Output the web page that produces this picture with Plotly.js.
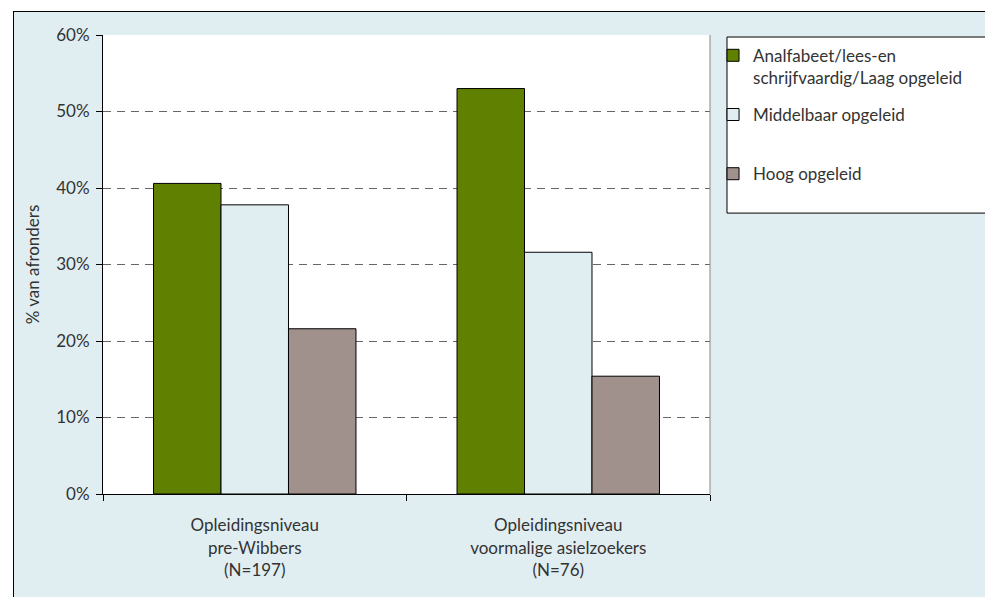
<!DOCTYPE html>
<html>
<head>
<meta charset="utf-8">
<script src="https://cdn.plot.ly/plotly-3.0.1.min.js"></script>
<style>
  html, body { margin: 0; padding: 0; background: #ffffff; }
  #frame { position: absolute; left: 13px; top: 11px; width: 1000px; height: 600px;
           border: 1px solid #000; background: #e0eef2; box-sizing: border-box; }
  #chart { position: absolute; left: 0; top: 0; width: 985px; height: 597px; }
</style>
</head>
<body>
<div id="frame"></div>
<div id="chart"></div>
<script>
const categories = [
  "Opleidingsniveau<br>pre-Wibbers<br>(N=197)",
  "Opleidingsniveau<br>voormalige asielzoekers<br>(N=76)"
];
const seriesNames = [
  "Analfabeet/lees-en<br>schrijfvaardig/Laag opgeleid",
  "Middelbaar opgeleid<br> ",
  "Hoog opgeleid<br> "
];
const laagValues = [40.6, 53.0];
const middelbaarValues = [37.8, 31.6];
const hoogValues = [21.6, 15.4];
const yTickVals = [0, 10, 20, 30, 40, 50, 60];
const yTickText = ["0%", "10%", "20%", "30%", "40%", "50%", "60%"];

const colors = ["#5f8000", "#e0eef2", "#a0918c"];
const allValues = [laagValues, middelbaarValues, hoogValues];

const traces = allValues.map((vals, i) => ({
  type: "bar",
  x: categories,
  y: vals,
  name: seriesNames[i],
  legendgroup: "g" + i,
  marker: { color: colors[i], line: { color: "#000", width: 1 } },
  hoverinfo: "skip"
}));

const fam = "Lato, 'Open Sans', sans-serif";

const layout = {
  width: 985, height: 597,
  margin: { l: 103, r: 275, t: 35, b: 103 },
  paper_bgcolor: "rgba(0,0,0,0)",
  plot_bgcolor: "#ffffff",
  font: { family: fam, size: 16, color: "#333" },
  barmode: "group",
  bargap: 0.333,
  bargroupgap: 0,
  showlegend: true,
  legend: {
    x: 1.005, xanchor: "left", y: 0.994, yanchor: "top",
    bgcolor: "rgba(0,0,0,0)", borderwidth: 0,
    font: { family: fam, size: 17, color: "#333" },
    valign: "top", traceorder: "grouped", tracegroupgap: 12,
    itemclick: false
  },
  xaxis: {
    type: "category",
    showline: true, linecolor: "#000", linewidth: 1,
    ticks: "outside", tickson: "boundaries", ticklen: 6, tickcolor: "#000",
    showgrid: false, zeroline: false,
    tickfont: { family: fam, size: 17, color: "#333" },
    ticklabelstandoff: 16
  },
  yaxis: {
    range: [0, 60],
    tickmode: "array",
    tickvals: yTickVals,
    ticktext: yTickText,
    showline: true, linecolor: "#000", linewidth: 1,
    ticks: "outside", ticklen: 6, tickcolor: "#000",
    showgrid: true, gridcolor: "#666", gridwidth: 1, griddash: "8px,6px",
    zeroline: false,
    tickfont: { family: fam, size: 17, color: "#333" },
    ticklabelstandoff: 3,
    title: { text: "% van afronders", font: { family: fam, size: 17, color: "#333" }, standoff: 12 }
  },
  shapes: [
    { type: "line", xref: "paper", yref: "paper", x0: 1, x1: 1, y0: 0, y1: 1,
      line: { color: "#888", width: 1 } },
    { type: "rect", xref: "paper", yref: "paper", layer: "above",
      x0: 1.028, x1: 1.6, y0: 0.612, y1: 0.9956,
      fillcolor: "#ffffff", line: { color: "#000", width: 1 } }
  ]
};

Plotly.newPlot("chart", traces, layout, { staticPlot: true, displayModeBar: false });
</script>
</body>
</html>
